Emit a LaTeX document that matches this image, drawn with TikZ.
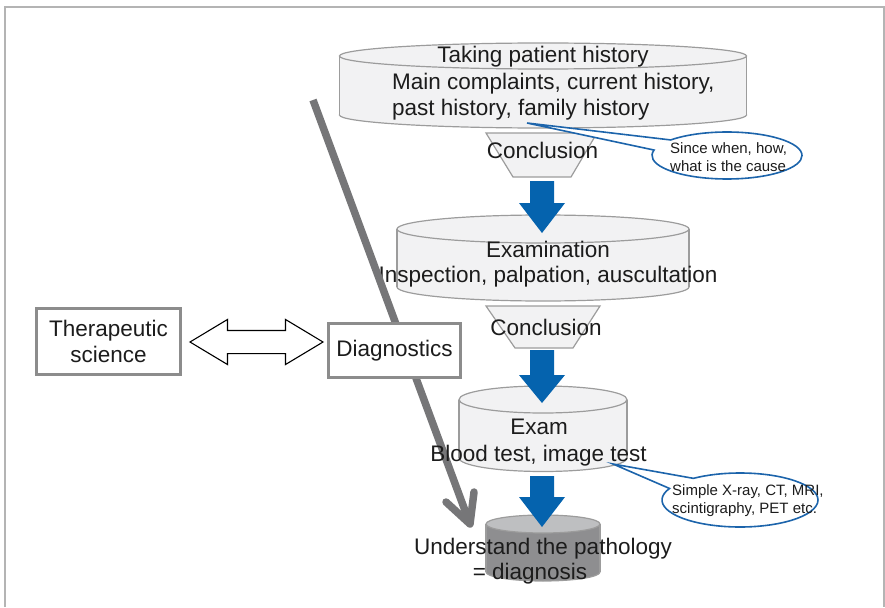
\documentclass[tikz,border=0pt]{standalone}
\usepackage{fontspec}
\setmainfont{Liberation Sans}
\usetikzlibrary{shapes.callouts,shapes.arrows}

\definecolor{framec}{HTML}{B4B4B4}
\definecolor{drumfill}{HTML}{F2F2F3}
\definecolor{drumedge}{HTML}{9C9C9C}
\definecolor{darktop}{HTML}{BEBFC1}
\definecolor{darkbody}{HTML}{8E8E90}
\definecolor{flowblue}{HTML}{0563AE}
\definecolor{notec}{HTML}{1C64AB}
\definecolor{pathgray}{HTML}{767678}
\definecolor{boxedge}{HTML}{8C8C8C}
\definecolor{textc}{HTML}{1C1C1C}

% drum: centre x, top y, bottom y, x radius, y radius, top fill, body fill
\newcommand\drum[7]{%
  \filldraw[drumline, fill=#7] (#1,#3) ellipse [x radius=#4pt, y radius=#5pt];
  \fill[#7] ({#1-#4},#2) rectangle ({#1+#4},#3);
  \draw[drumline] ({#1-#4},#2) -- ({#1-#4},#3) ({#1+#4},#2) -- ({#1+#4},#3);
  \filldraw[drumline, fill=#6] (#1,#2) ellipse [x radius=#4pt, y radius=#5pt];
}
% block arrow pointing down: centre x, top y, head base y, tip y
\newcommand\downblock[4]{%
  \fill[flowblue] ({#1-12},#2) -- ({#1+12},#2) -- ({#1+12},#3) -- ({#1+23},#3)
    -- (#1,#4) -- ({#1-23},#3) -- ({#1-12},#3) -- cycle;
}

\begin{document}
\begin{tikzpicture}[x=1pt,y=-1pt,
  drumline/.style={draw=drumedge, line width=1.2pt},
  big/.style={inner sep=0pt, anchor=base, text=textc, font=\fontsize{22.5}{26}\selectfont},
  small/.style={inner sep=0pt, anchor=base west, text=textc, font=\fontsize{15}{18}\selectfont},
  termbox/.style={draw=boxedge, line width=3pt, fill=white, align=center, inner sep=0pt,
    text=textc, font=\fontsize{22.5}{26}\selectfont},
  bubble/.style={ellipse callout, draw=notec, fill=white, line width=1.6pt, inner sep=0pt,
    callout pointer arc=28},
  funnel/.style={draw=drumedge, line width=1.2pt, fill=drumfill}]

\useasboundingbox (0,0) rectangle (885,607);

% page frame (open at the bottom)
\draw[framec, line width=1.5pt] (5,607) -- (5,7) -- (884,7) -- (884,607);

% stacked drums
\drum{543}{56}{115}{203.5}{13}{drumfill}{drumfill}
\drum{543}{229}{287}{146}{14}{drumfill}{drumfill}
\drum{543}{399.5}{458}{84}{13.5}{drumfill}{drumfill}
\drum{543}{524}{572}{57}{9}{darktop}{darkbody}

% funnels
\filldraw[funnel] (486,133) -- (597,133) -- (571,177) -- (513,177) -- cycle;
\filldraw[funnel] (486,306) -- (600,306) -- (573,348) -- (515,348) -- cycle;

% flow arrows
\downblock{542}{181}{203}{233}
\downblock{542}{350}{375}{403}
\downblock{542}{476}{497}{527}

% texts
\node[big] (t1) at (543,63) {Taking patient history};
\node[big, anchor=base west] (t2) at (392,90) {Main complaints, current history,};
\node[big, anchor=base west] (t3) at (392,115) {past history, family history};
\node[big] (c1) at (542.5,158) {Conclusion};
\node[big] (e1) at (548,257) {Examination};
\node[big] (e2) at (548,282) {Inspection, palpation, auscultation};
\node[big] (c2) at (546,335) {Conclusion};
\node[big] (d1) at (543,554) {Understand the pathology};
\node[big] (d2) at (530,579) {= diagnosis};

% callouts
\coordinate (p1) at (527,123);
\coordinate (p2) at (613,464);
\node[bubble, minimum width=150pt, minimum height=47pt, callout absolute pointer={(p1)}] (n1) at (727,155.5) {};
\node[bubble, minimum width=156pt, minimum height=54pt, callout absolute pointer={(p2)}] (n2) at (740,500) {};
\node[small] at (670,153) {Since when, how,};
\node[small] at (670,171) {what is the cause};
\node[small] at (672,495) {Simple X-ray, CT, MRI,};
\node[small] at (672,513) {scintigraphy, PET etc.};

% diagnostic path
\coordinate (gs) at (313,100);
\coordinate (gt) at (470,524);
\coordinate (ga) at (446,502);
\coordinate (gb) at (474,492);
\draw[pathgray, line width=7.5pt] (gs) -- (gt);
\draw[pathgray, line width=7.5pt, line cap=round, line join=round] (ga) -- (gt) -- (gb);

% exam labels sit above the path
\node[big] (x1) at (539,434) {Exam};
\node[big] (x2) at (538.5,461) {Blood test, image test};

% the two disciplines
\node[termbox, minimum width=144pt, minimum height=66pt] (ther) at (108.5,341.5) {Therapeutic\\science};
\node[termbox, minimum width=132pt, minimum height=54pt] (diag) at (394.5,350.5) {Diagnostics};
\node[double arrow, draw=black, fill=white, line width=1.1pt, inner sep=11pt,
  minimum height=133pt, double arrow head extend=11pt, double arrow tip angle=62]
  (link) at (256.5,342) {};

\end{tikzpicture}
\end{document}
